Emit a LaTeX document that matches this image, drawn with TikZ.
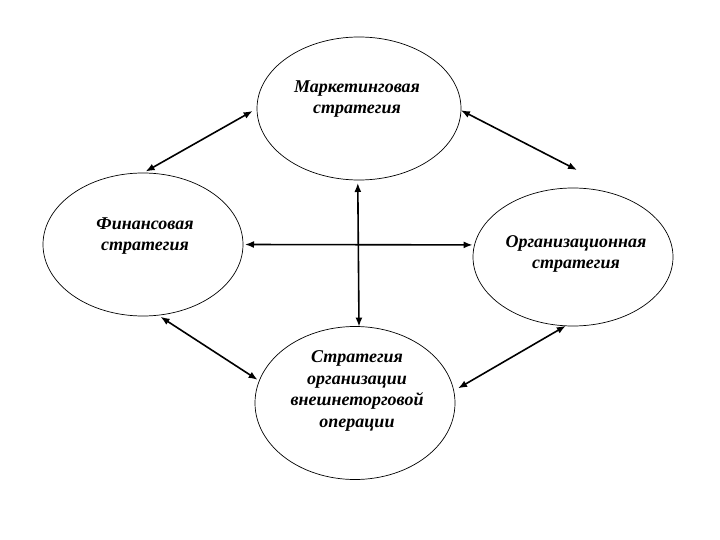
\documentclass[tikz,border=0pt]{standalone}
\usepackage{fontspec}
\setmainfont{Liberation Serif}
\usetikzlibrary{shapes.geometric,arrows.meta}
\begin{document}
\begin{tikzpicture}[x=1pt,y=-1pt,
  oval/.style={draw=black,line width=0.7pt,ellipse,inner sep=0pt,outer sep=0pt},
  lbl/.style={align=center,inner sep=0pt,font=\bfseries\itshape\fontsize{18}{21.5}\selectfont},
  link/.style={line width=1.6pt,{Latex[length=9pt,width=7pt]}-{Latex[length=9pt,width=7pt]}}]
\useasboundingbox (0,0) rectangle (720,540);
\node[oval,minimum width=204pt,minimum height=143pt] (mk) at (359,108.5) {};
\node[oval,minimum width=200pt,minimum height=143pt] (fin) at (143,244.5) {};
\node[oval,minimum width=200pt,minimum height=138pt] (org) at (573,257) {};
\node[oval,minimum width=200pt,minimum height=153pt] (ved) at (355,403) {};
\coordinate (orgtip) at (577,170);
\node[lbl] (mkt) at (357,99) {Маркетинговая\\стратегия};
\node[lbl] (fint) at (145,236) {Финансовая\\стратегия};
\node[lbl] (orgt) at (576,254) {Организационная\\стратегия};
\node[lbl] (vedt) at (357,391) {Стратегия\\организации\\внешнеторговой\\операции};
\draw[link,shorten <=5pt,shorten >=3pt] (mk.180.8) -- (fin.90);
\draw[link] (mk.-1.4) -- (orgtip);
\draw[link,shorten <=2pt,shorten >=2pt] (fin.-0.8) -- (org.173.2);
\draw[link,shorten <=3pt] (mk.269) -- (ved.87.7);
\draw[link,shorten <=3pt,shorten >=2pt] (fin.-78.5) -- (ved.167.9);
\draw[link,shorten <=5pt] (ved.7.1) -- (org.264);
\end{tikzpicture}
\end{document}
